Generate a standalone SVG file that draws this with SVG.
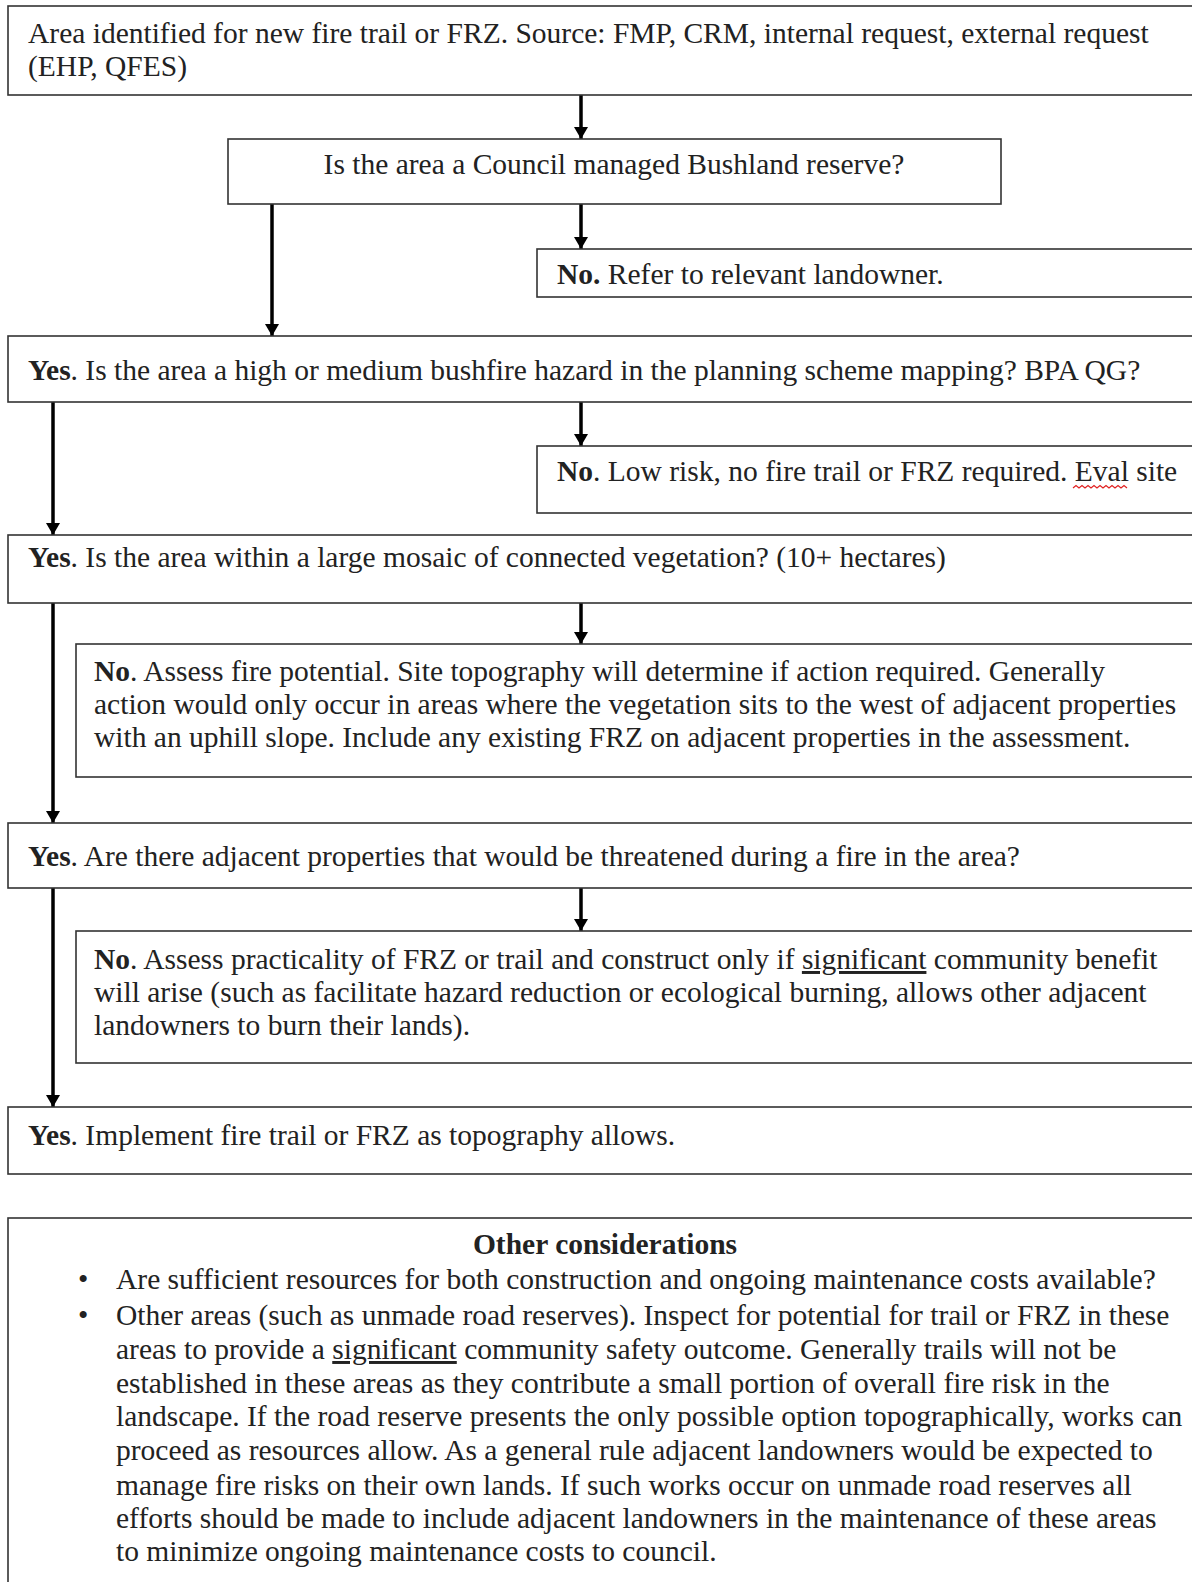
<svg xmlns="http://www.w3.org/2000/svg" width="1192" height="1582" viewBox="0 0 1192 1582">
<style>
.box{fill:#fff;stroke:#333;stroke-width:1.6}
.t{font-family:"Liberation Serif","Times New Roman",serif;font-size:29.5px;fill:#222}
.b{font-weight:bold}
.u{text-decoration:underline}
.conn{stroke:#000;stroke-width:3.5;fill:none}
</style>
<defs>
<marker id="ah" viewBox="0 0 10 10" refX="10" refY="5" markerWidth="12" markerHeight="14" markerUnits="userSpaceOnUse" orient="auto" preserveAspectRatio="none">
<path d="M0,0 L10,5 L0,10 z" fill="#000"/>
</marker>
</defs>
<rect width="1192" height="1582" fill="#fff"/>
<g id="connectors">
<line class="conn" x1="581" y1="95" x2="581" y2="139" marker-end="url(#ah)"/>
<line class="conn" x1="581" y1="204" x2="581" y2="249" marker-end="url(#ah)"/>
<line class="conn" x1="272" y1="204" x2="272" y2="336" marker-end="url(#ah)"/>
<line class="conn" x1="581" y1="402" x2="581" y2="446" marker-end="url(#ah)"/>
<line class="conn" x1="53" y1="402" x2="53" y2="535" marker-end="url(#ah)"/>
<line class="conn" x1="581" y1="603" x2="581" y2="644" marker-end="url(#ah)"/>
<line class="conn" x1="53" y1="603" x2="53" y2="823" marker-end="url(#ah)"/>
<line class="conn" x1="581" y1="888" x2="581" y2="931" marker-end="url(#ah)"/>
<line class="conn" x1="53" y1="888" x2="53" y2="1107" marker-end="url(#ah)"/>
</g>
<g id="n1">
<rect class="box" x="8" y="6" width="1200" height="89"/>
<text class="t" x="28" y="43">Area identified for new fire trail or FRZ. Source: FMP, CRM, internal request, external request</text>
<text class="t" x="28" y="76">(EHP, QFES)</text>
</g>
<g id="n2">
<rect class="box" x="228" y="139" width="773" height="65"/>
<text class="t" x="614" y="174" text-anchor="middle">Is the area a Council managed Bushland reserve?</text>
</g>
<g id="n3">
<rect class="box" x="537" y="249" width="670" height="48"/>
<text class="t" x="557" y="284"><tspan class="b">No.</tspan> Refer to relevant landowner.</text>
</g>
<g id="n4">
<rect class="box" x="8" y="336" width="1200" height="66"/>
<text class="t" x="28" y="380"><tspan class="b">Yes</tspan>. Is the area a high or medium bushfire hazard in the planning scheme mapping? BPA QG?</text>
</g>
<g id="n5">
<rect class="box" x="537" y="446" width="670" height="67"/>
<text class="t" x="557" y="481"><tspan class="b">No</tspan>. Low risk, no fire trail or FRZ required. Eval site</text>
<path d="M1073,488 l3,-2.5 l3,2.5 l3,-2.5 l3,2.5 l3,-2.5 l3,2.5 l3,-2.5 l3,2.5 l3,-2.5 l3,2.5 l3,-2.5 l3,2.5 l3,-2.5 l3,2.5 l3,-2.5 l3,2.5 l3,-2.5 l3,2.5" fill="none" stroke="#e02020" stroke-width="1.2"/>
</g>
<g id="n6">
<rect class="box" x="8" y="535" width="1200" height="68"/>
<text class="t" x="28" y="567"><tspan class="b">Yes</tspan>. Is the area within a large mosaic of connected vegetation? (10+ hectares)</text>
</g>
<g id="n7">
<rect class="box" x="76" y="644" width="1130" height="133"/>
<text class="t" x="94" y="681"><tspan class="b">No</tspan>. Assess fire potential. Site topography will determine if action required. Generally</text>
<text class="t" x="94" y="714">action would only occur in areas where the vegetation sits to the west of adjacent properties</text>
<text class="t" x="94" y="747">with an uphill slope. Include any existing FRZ on adjacent properties in the assessment.</text>
</g>
<g id="n8">
<rect class="box" x="8" y="823" width="1200" height="65"/>
<text class="t" x="28" y="866"><tspan class="b">Yes</tspan>. Are there adjacent properties that would be threatened during a fire in the area?</text>
</g>
<g id="n9">
<rect class="box" x="76" y="931" width="1130" height="132"/>
<text class="t" x="94" y="969"><tspan class="b">No</tspan>. Assess practicality of FRZ or trail and construct only if <tspan class="u">significant</tspan> community benefit</text>
<text class="t" x="94" y="1002">will arise (such as facilitate hazard reduction or ecological burning, allows other adjacent</text>
<text class="t" x="94" y="1035">landowners to burn their lands).</text>
</g>
<g id="n10">
<rect class="box" x="8" y="1107" width="1200" height="67"/>
<text class="t" x="28" y="1145"><tspan class="b">Yes</tspan>. Implement fire trail or FRZ as topography allows.</text>
</g>
<g id="n11">
<rect class="box" x="8" y="1218" width="1200" height="400"/>
<text class="t b" x="605" y="1254" text-anchor="middle">Other considerations</text>
<text class="t" x="78" y="1289">•</text>
<text class="t" x="116" y="1289">Are sufficient resources for both construction and ongoing maintenance costs available?</text>
<text class="t" x="78" y="1325">•</text>
<text class="t" x="116" y="1325">Other areas (such as unmade road reserves). Inspect for potential for trail or FRZ in these</text>
<text class="t" x="116" y="1359">areas to provide a <tspan class="u">significant</tspan> community safety outcome. Generally trails will not be</text>
<text class="t" x="116" y="1393">established in these areas as they contribute a small portion of overall fire risk in the</text>
<text class="t" x="116" y="1426">landscape. If the road reserve presents the only possible option topographically, works can</text>
<text class="t" x="116" y="1460">proceed as resources allow. As a general rule adjacent landowners would be expected to</text>
<text class="t" x="116" y="1495">manage fire risks on their own lands. If such works occur on unmade road reserves all</text>
<text class="t" x="116" y="1528">efforts should be made to include adjacent landowners in the maintenance of these areas</text>
<text class="t" x="116" y="1561">to minimize ongoing maintenance costs to council.</text>
</g>
</svg>
